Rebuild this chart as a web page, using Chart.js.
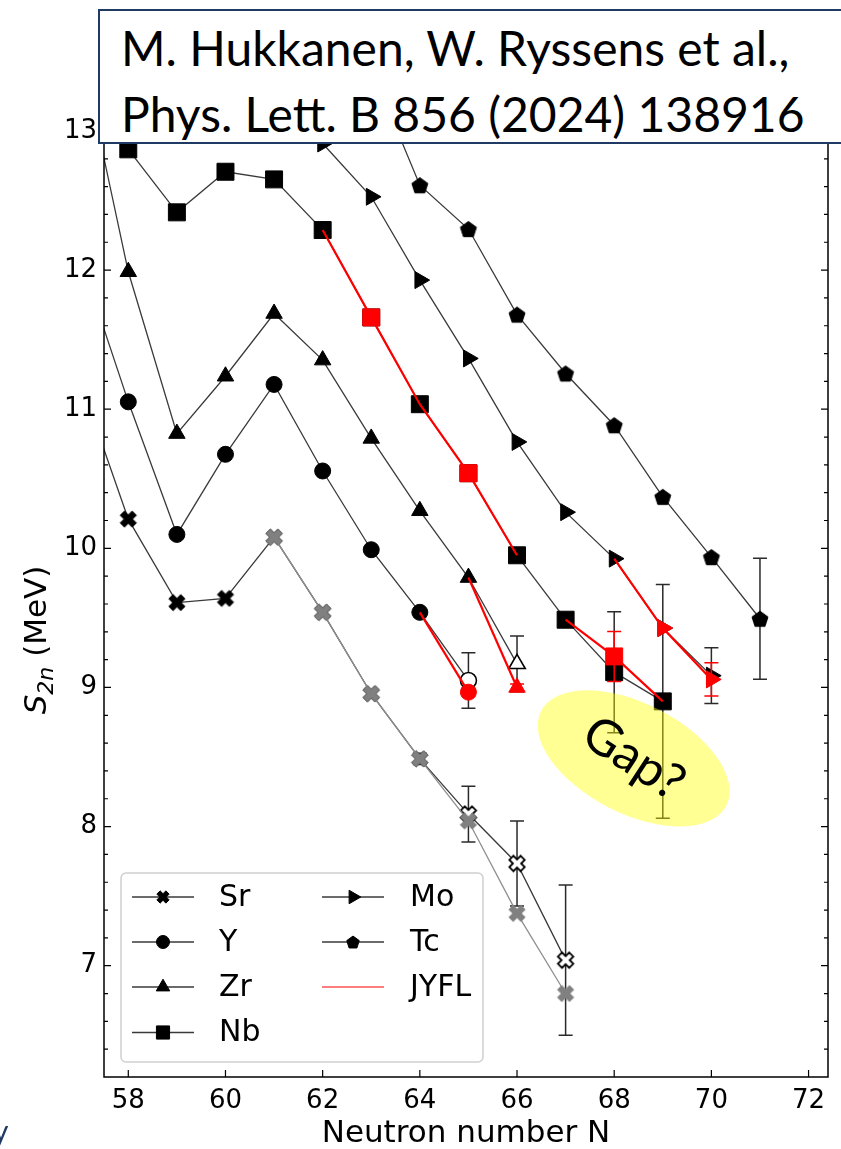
<!DOCTYPE html>
<html>
<head>
<meta charset="utf-8">
<script src="https://cdn.jsdelivr.net/npm/chart.js@4.4.1/dist/chart.umd.min.js"></script>
<style>
  html, body { margin: 0; padding: 0; background: #fff; }
  #wrap { position: relative; width: 841px; height: 1149px; overflow: hidden; }
  #chart { position: absolute; left: 0; top: 0; }
  #ref {
    position: absolute; left: 98px; top: 9px; width: 780px; height: 135px;
    box-sizing: border-box; border: 2.5px solid #1f3a63; background: #fff;
    font-family: Lato, sans-serif; font-size: 48px; line-height: 66px;
    padding: 4px 0 0 21px; color: #000; white-space: nowrap;
  }
  #corner {
    position: absolute; left: -7px; top: 1112px;
    font-family: Lato, sans-serif; font-size: 30px; color: #1f3a63;
  }
</style>
</head>
<body>
<div id="wrap">
  <canvas id="chart" width="841" height="1149"></canvas>
  <div id="ref">M. Hukkanen, W. Ryssens et al.,<br>Phys. Lett. B 856 (2024) 138916</div>
  <div id="corner">y</div>
</div>
<script>
const X_TICKS = [58, 60, 62, 64, 66, 68, 70, 72];
const Y_TICKS = [7, 8, 9, 10, 11, 12, 13];

// two-neutron separation energies (MeV) along each isotopic chain
const SR_N      = [57, 58, 59, 60, 61, 62, 63, 64, 65, 66, 67];
const SR_S2N    = [11.21, 10.21, 9.61, 9.64, 10.08, 9.54, 8.955, 8.487, 8.09, 7.735, 7.04];
const SR_ERR    = [0, 0, 0, 0, 0, 0, 0, 0.04, 0.2, 0.305, 0.54];
const SR_EXTRAP = [65, 66, 67];

// second Sr set, drawn in grey
const SR_ALT_N   = [61, 62, 63, 64, 65, 66, 67];
const SR_ALT_S2N = [10.08, 9.54, 8.955, 8.487, 8.04, 7.376, 6.80];

const Y_N      = [57, 58, 59, 60, 61, 62, 63, 64, 65];
const Y_S2N    = [12.10, 11.053, 10.10, 10.676, 11.178, 10.556, 9.99, 9.54, 9.05];
const Y_ERR    = [0, 0, 0, 0, 0, 0, 0, 0, 0.2];
const Y_EXTRAP = [65];

const ZR_N      = [57, 58, 59, 60, 61, 62, 63, 64, 65, 66];
const ZR_S2N    = [13.62, 11.988, 10.825, 11.237, 11.688, 11.353, 10.79, 10.27, 9.79, 9.17];
const ZR_ERR    = [0, 0, 0, 0, 0, 0, 0, 0, 0, 0.2];
const ZR_EXTRAP = [66];

const NB_N   = [58, 59, 60, 61, 62, 63, 64, 65, 66, 67, 68, 69];
const NB_S2N = [12.868, 12.415, 12.707, 12.652, 12.288, 11.66, 11.036, 10.54, 9.95, 9.487, 9.11, 8.90];
const NB_ERR = [0, 0, 0, 0, 0, 0, 0, 0, 0, 0, 0.435, 0.84];

const MO_N   = [62, 63, 64, 65, 66, 67, 68, 69, 70];
const MO_S2N = [12.91, 12.527, 11.928, 11.365, 10.765, 10.26, 9.926, 9.427, 9.085];
const MO_ERR = [0, 0, 0, 0, 0, 0, 0, 0, 0.2];

const TC_N   = [63, 64, 65, 66, 67, 68, 69, 70, 71];
const TC_S2N = [13.45, 12.61, 12.295, 11.68, 11.257, 10.885, 10.37, 9.937, 9.494];
const TC_ERR = [0, 0, 0, 0, 0, 0, 0, 0, 0.435];

// JYFL results, with the neighbouring values they feed into
const JYFL_Y_N      = [64, 65];
const JYFL_Y_S2N    = [9.54, 8.966];
const JYFL_Y_ERR    = [0, 0.03];
const JYFL_Y_MEAS   = [65];
const JYFL_ZR_N     = [65, 66];
const JYFL_ZR_S2N   = [9.79, 9.0];
const JYFL_ZR_ERR   = [0, 0.025];
const JYFL_ZR_MEAS  = [66];
const JYFL_NB_N     = [62, 63, 64, 65, 66];
const JYFL_NB_S2N   = [12.288, 11.66, 11.036, 10.54, 9.95];
const JYFL_NB_ERR   = [0, 0, 0, 0, 0];
const JYFL_NB_MEAS  = [63, 65];
const JYFL_NB2_N    = [67, 68, 69];
const JYFL_NB2_S2N  = [9.487, 9.223, 8.90];
const JYFL_NB2_ERR  = [0, 0.18, 0];
const JYFL_NB2_MEAS = [68];
const JYFL_MO_N     = [68, 69, 70];
const JYFL_MO_S2N   = [9.926, 9.427, 9.058];
const JYFL_MO_ERR   = [0, 0, 0.12];
const JYFL_MO_MEAS  = [69, 70];

const LINE = '#3a3a3a';
const RED = '#ff0000';
const GREY = '#808080';

// --- custom marker sprites (filled X and pentagon) ---
function sprite(size, paint) {
  const c = document.createElement('canvas');
  c.width = size; c.height = size;
  const g = c.getContext('2d');
  g.translate(size / 2, size / 2);
  paint(g);
  return c;
}
function xMarker(fill, stroke, lw, h) {
  return sprite(26, g => {
    const a = h * 0.36, k = Math.SQRT1_2;
    const pts = [[-a,-h],[a,-h],[a,-a],[h,-a],[h,a],[a,a],[a,h],[-a,h],[-a,a],[-h,a],[-h,-a],[-a,-a]];
    g.beginPath();
    pts.forEach(([px, py], i) => {
      const rx = (px - py) * k, ry = (px + py) * k;
      if (i) g.lineTo(rx, ry); else g.moveTo(rx, ry);
    });
    g.closePath();
    g.fillStyle = fill; g.fill();
    g.lineWidth = lw; g.strokeStyle = stroke; g.lineJoin = 'miter'; g.stroke();
  });
}
function pentagon(r) {
  return sprite(22, g => {
    g.beginPath();
    for (let i = 0; i < 5; i++) {
      const t = -Math.PI / 2 + i * 2 * Math.PI / 5;
      const px = r * Math.cos(t), py = r * Math.sin(t) + r * 0.1;
      if (i) g.lineTo(px, py); else g.moveTo(px, py);
    }
    g.closePath();
    g.fillStyle = '#000'; g.fill();
    g.lineWidth = 1; g.strokeStyle = '#000'; g.stroke();
  });
}
const X_FILLED = xMarker('#000', '#000', 1, 8.4);
const X_OPEN   = xMarker('#fff', '#000', 1.8, 8.0);
const X_GREY   = xMarker(GREY, GREY, 1, 8.4);
const PENT     = pentagon(8.4);
const X_SMALL  = xMarker('#000', '#000', 1, 6.4);
const PENT_SMALL = pentagon(6.6);

function pts(ns, vals) {
  return ns.map((n, i) => ({ x: n, y: vals[i] }));
}

function chain(label, ns, vals, errs, marker, extrap) {
  const open = n => (extrap || []).includes(n);
  return {
    label,
    data: pts(ns, vals),
    errors: errs,
    errorColor: '#2a2a2a',
    borderColor: LINE,
    borderWidth: 1.3,
    pointStyle: ns.map(n => open(n) ? (marker.openStyle || marker.style) : marker.style),
    pointRadius: marker.radius,
    pointRotation: marker.rotation || 0,
    pointBackgroundColor: ns.map(n => open(n) ? '#fff' : '#000'),
    pointBorderColor: '#000',
    pointBorderWidth: ns.map(n => open(n) ? 1.6 : 1),
    order: 4
  };
}

function jyfl(label, ns, vals, errs, meas, marker) {
  return {
    label,
    data: pts(ns, vals),
    errors: errs,
    errorColor: RED,
    borderColor: RED,
    borderWidth: 2.2,
    pointStyle: marker.style,
    pointRotation: marker.rotation || 0,
    pointRadius: ns.map(n => meas.includes(n) ? marker.radius : 0),
    pointBackgroundColor: RED,
    pointBorderColor: RED,
    pointBorderWidth: 1,
    order: 1
  };
}

const M_SR  = { style: X_FILLED, openStyle: X_OPEN, radius: 8 };
const M_Y   = { style: 'circle', radius: 8 };
const M_ZR  = { style: 'triangle', radius: 9.5 };
const M_NB  = { style: 'rect', radius: 12 };
const M_MO  = { style: 'triangle', radius: 9.8, rotation: 90 };
const M_TC  = { style: PENT, radius: 8 };

const datasets = [
  chain('Sr', SR_N, SR_S2N, SR_ERR, M_SR, SR_EXTRAP),
  chain('Y', Y_N, Y_S2N, Y_ERR, M_Y, Y_EXTRAP),
  chain('Zr', ZR_N, ZR_S2N, ZR_ERR, M_ZR, ZR_EXTRAP),
  chain('Nb', NB_N, NB_S2N, NB_ERR, M_NB),
  chain('Mo', MO_N, MO_S2N, MO_ERR, M_MO),
  chain('Tc', TC_N, TC_S2N, TC_ERR, M_TC),
  {
    label: 'Sr (grey)',
    data: pts(SR_ALT_N, SR_ALT_S2N),
    borderColor: '#8f8f8f',
    borderWidth: 1.3,
    pointStyle: X_GREY,
    pointRadius: 8,
    order: 3
  },
  jyfl('JYFL Y', JYFL_Y_N, JYFL_Y_S2N, JYFL_Y_ERR, JYFL_Y_MEAS, M_Y),
  jyfl('JYFL Zr', JYFL_ZR_N, JYFL_ZR_S2N, JYFL_ZR_ERR, JYFL_ZR_MEAS, M_ZR),
  jyfl('JYFL Nb', JYFL_NB_N, JYFL_NB_S2N, JYFL_NB_ERR, JYFL_NB_MEAS, M_NB),
  jyfl('JYFL Nb 2', JYFL_NB2_N, JYFL_NB2_S2N, JYFL_NB2_ERR, JYFL_NB2_MEAS, M_NB),
  jyfl('JYFL Mo', JYFL_MO_N, JYFL_MO_S2N, JYFL_MO_ERR, JYFL_MO_MEAS, M_MO)
];

// vertical error bars with caps, under each dataset's own line and markers
const errorBars = {
  id: 'errorBars',
  beforeDatasetDraw(chart, args) {
    const ds = chart.data.datasets[args.index];
    if (!ds.errors) return;
    const xs = chart.scales.x, ys = chart.scales.y, ctx = chart.ctx;
    ctx.save();
    ctx.strokeStyle = ds.errorColor;
    ctx.lineWidth = 1.5;
    ds.data.forEach((p, i) => {
      const e = ds.errors[i];
      if (!e) return;
      const px = xs.getPixelForValue(p.x);
      const top = ys.getPixelForValue(p.y + e);
      const bot = ys.getPixelForValue(p.y - e);
      ctx.beginPath();
      ctx.moveTo(px, top); ctx.lineTo(px, bot);
      ctx.moveTo(px - 7, top); ctx.lineTo(px + 7, top);
      ctx.moveTo(px - 7, bot); ctx.lineTo(px + 7, bot);
      ctx.stroke();
    });
    ctx.restore();
  }
};

// axes frame with inward major/minor ticks
const frame = {
  id: 'frame',
  afterDatasetsDraw(chart) {
    const { ctx, chartArea: a } = chart;
    const xs = chart.scales.x, ys = chart.scales.y;
    ctx.save();
    ctx.strokeStyle = '#000';
    ctx.lineWidth = 1.5;
    ctx.strokeRect(a.left, a.top, a.right - a.left, a.bottom - a.top);
    ctx.lineWidth = 1.2;
    ctx.beginPath();
    X_TICKS.forEach(v => {
      const px = xs.getPixelForValue(v);
      ctx.moveTo(px, a.bottom); ctx.lineTo(px, a.bottom - 7);
      ctx.moveTo(px, a.top); ctx.lineTo(px, a.top + 7);
    });
    for (let k = 32; k <= 68; k++) {
      const v = k / 5;
      const py = ys.getPixelForValue(v);
      const len = k % 5 === 0 ? 7 : 4;
      ctx.moveTo(a.left, py); ctx.lineTo(a.left + len, py);
      ctx.moveTo(a.right, py); ctx.lineTo(a.right - len, py);
    }
    ctx.stroke();
    ctx.restore();
  }
};

// highlighted "Gap?" region
const gapNote = {
  id: 'gapNote',
  afterDatasetsDraw(chart) {
    const ctx = chart.ctx;
    const cx = chart.scales.x.getPixelForValue(68.4);
    const cy = chart.scales.y.getPixelForValue(8.49);
    ctx.save();
    ctx.translate(cx, cy);
    ctx.rotate(27 * Math.PI / 180);
    ctx.beginPath();
    ctx.ellipse(0, 0, 104, 55, 0, 0, 2 * Math.PI);
    ctx.fillStyle = 'rgba(255, 255, 0, 0.42)';
    ctx.fill();
    ctx.rotate(6 * Math.PI / 180);
    ctx.fillStyle = '#000';
    ctx.font = '50px Lato';
    ctx.textAlign = 'center';
    ctx.textBaseline = 'middle';
    ctx.fillText('Gap?', 0, 0);
    ctx.restore();
  }
};

// y-axis title with italic S and subscript
const yTitle = {
  id: 'yTitle',
  afterDraw(chart) {
    const ctx = chart.ctx;
    const parts = [
      { t: 'S', f: 'italic 31px "DejaVu Sans"', dy: 0 },
      { t: '2n', f: 'italic 22px "DejaVu Sans"', dy: 7 },
      { t: ' (MeV)', f: '31px "DejaVu Sans"', dy: 0 }
    ];
    let total = 0;
    parts.forEach(p => { ctx.font = p.f; p.w = ctx.measureText(p.t).width; total += p.w; });
    ctx.save();
    ctx.translate(35, 640);
    ctx.rotate(-Math.PI / 2);
    ctx.fillStyle = '#000';
    ctx.textBaseline = 'alphabetic';
    let x = -total / 2;
    parts.forEach(p => { ctx.font = p.f; ctx.fillText(p.t, x, 11 + p.dy); x += p.w; });
    ctx.restore();
  }
};

// legend box in the lower-left corner
const legendBox = {
  id: 'legendBox',
  afterDraw(chart) {
    const ctx = chart.ctx;
    const H = Chart.helpers;
    const rows = [897, 942, 987, 1032.5];
    const cols = [{ l: 132, r: 194, m: 163, t: 219 }, { l: 322, r: 384, m: 353, t: 410 }];
    const entries = [
      { label: 'Sr', col: 0, row: 0, img: X_SMALL },
      { label: 'Y', col: 0, row: 1, pt: { pointStyle: 'circle', radius: 6.5 } },
      { label: 'Zr', col: 0, row: 2, pt: { pointStyle: 'triangle', radius: 7.8 } },
      { label: 'Nb', col: 0, row: 3, pt: { pointStyle: 'rect', radius: 9.3 } },
      { label: 'Mo', col: 1, row: 0, pt: { pointStyle: 'triangle', radius: 7.8, rotation: 90 } },
      { label: 'Tc', col: 1, row: 1, img: PENT_SMALL },
      { label: 'JYFL', col: 1, row: 2, red: true }
    ];
    ctx.save();
    ctx.beginPath();
    ctx.roundRect(121, 873, 362, 189, 5);
    ctx.fillStyle = 'rgba(255,255,255,0.85)';
    ctx.fill();
    ctx.strokeStyle = '#d0d0d0';
    ctx.lineWidth = 1.5;
    ctx.stroke();
    entries.forEach(e => {
      const c = cols[e.col], y = rows[e.row];
      ctx.beginPath();
      ctx.moveTo(c.l, y); ctx.lineTo(c.r, y);
      ctx.strokeStyle = e.red ? RED : LINE;
      ctx.lineWidth = e.red ? 1.2 : 1.3;
      ctx.stroke();
      if (e.img) {
        ctx.drawImage(e.img, c.m - e.img.width / 2, y - e.img.height / 2);
      } else if (e.pt) {
        ctx.fillStyle = '#000';
        ctx.strokeStyle = '#000';
        ctx.lineWidth = 1;
        H.drawPoint(ctx, Object.assign({ rotation: 0, borderWidth: 1 }, e.pt), c.m, y);
      }
      ctx.fillStyle = '#000';
      ctx.font = '30px "DejaVu Sans"';
      ctx.textBaseline = 'middle';
      ctx.textAlign = 'left';
      ctx.fillText(e.label, c.t, y + 1);
    });
    ctx.restore();
  }
};

Chart.defaults.font.family = '"DejaVu Sans"';
Chart.defaults.color = '#000';

new Chart(document.getElementById('chart'), {
  type: 'line',
  data: { datasets },
  options: {
    responsive: false,
    animation: false,
    events: [],
    layout: { padding: { top: 47.5, right: 4, left: 0, bottom: 0 } },
    plugins: { legend: { display: false }, tooltip: { enabled: false } },
    scales: {
      x: {
        type: 'linear',
        min: 57.5,
        max: 72.4,
        afterFit: s => { s.height = 72; },
        afterBuildTicks: s => { s.ticks = X_TICKS.map(v => ({ value: v })); },
        ticks: { font: { size: 26 }, padding: 9, maxRotation: 0, autoSkip: false },
        grid: { display: false, drawTicks: false },
        border: { display: false },
        title: {
          display: true,
          text: 'Neutron number N',
          font: { size: 31, lineHeight: 1 },
          padding: { top: 0, bottom: 0 }
        }
      },
      y: {
        type: 'linear',
        min: 6.2,
        max: 13.6,
        afterFit: s => { s.width = 104; },
        afterBuildTicks: s => { s.ticks = Y_TICKS.map(v => ({ value: v })); },
        ticks: { font: { size: 26 }, padding: 7, autoSkip: false },
        grid: { display: false, drawTicks: false },
        border: { display: false }
      }
    }
  },
  plugins: [errorBars, frame, gapNote, yTitle, legendBox]
});
</script>
</body>
</html>
